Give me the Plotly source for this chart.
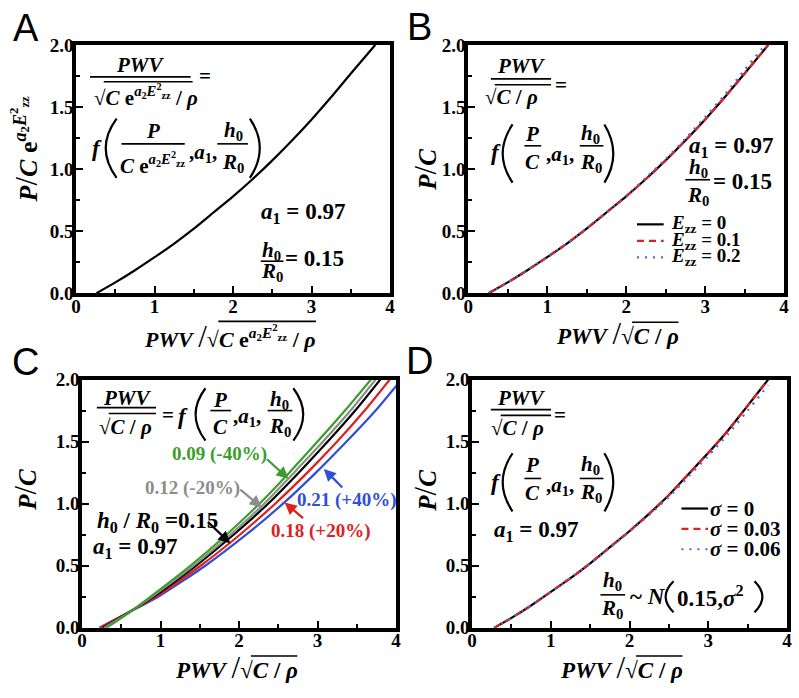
import plotly.graph_objects as go

W, H = 799, 698
SERIF = "'Liberation Serif', 'Times New Roman', Times, serif"
SANS = "'Liberation Sans', Arial, Helvetica, sans-serif"

GREEN = "#3a9e2a"
GRAY = "#8c8c8c"
RED = "#e0201c"
BLUE = "#2f4fd8"
DOTBLUE = "#5068d8"

# ---------------- data ----------------
x_tick_vals = [0, 1, 2, 3, 4]
x_tick_text = ["0", "1", "2", "3", "4"]
y_tick_vals = [0, 0.5, 1.0, 1.5, 2.0]
y_tick_text = ["0.0", "0.5", "1.0", "1.5", "2.0"]

# Panel A
a_x = [0.26, 0.5, 0.75, 1.0, 1.25, 1.5, 1.75, 2.0, 2.25, 2.5, 2.75, 3.0, 3.25, 3.5, 3.81]
a_y = [0.0, 0.087, 0.185, 0.29, 0.40, 0.52, 0.65, 0.78, 0.92, 1.07, 1.23, 1.40, 1.58, 1.77, 2.0]

# Panel B
b_x = [0.26, 0.5, 0.75, 1.0, 1.25, 1.5, 1.75, 2.0, 2.25, 2.5, 2.75, 3.0, 3.25, 3.5, 3.80]
b_ezz_0 = [0.0, 0.087, 0.185, 0.29, 0.40, 0.52, 0.65, 0.78, 0.92, 1.07, 1.23, 1.40, 1.58, 1.77, 2.0]
b_ezz_01 = [0.0, 0.087, 0.185, 0.29, 0.40, 0.52, 0.65, 0.78, 0.92, 1.07, 1.23, 1.40, 1.58, 1.77, 2.0]
b_ezz_02 = [0.0, 0.087, 0.185, 0.29, 0.40, 0.52, 0.65, 0.785, 0.93, 1.08, 1.245, 1.42, 1.60, 1.80, 2.03]

# Panel C (x values at fixed P/C levels)
c_y = [0.0, 0.1, 0.25, 0.5, 0.75, 1.0, 1.25, 1.5, 1.75, 2.0]
c_x_009 = [0.31, 0.55, 0.87, 1.38, 1.84, 2.26, 2.64, 3.00, 3.35, 3.68]
c_x_012 = [0.28, 0.54, 0.89, 1.42, 1.89, 2.32, 2.70, 3.07, 3.42, 3.74]
c_x_015 = [0.26, 0.53, 0.91, 1.45, 1.93, 2.37, 2.76, 3.13, 3.48, 3.80]
c_x_018 = [0.23, 0.52, 0.94, 1.51, 2.01, 2.46, 2.87, 3.25, 3.60, 3.92]
c_x_021 = [0.22, 0.52, 0.97, 1.57, 2.09, 2.56, 2.98, 3.37, 3.74, 4.07]

# Panel D
d_x = [0.28, 0.5, 0.75, 1.0, 1.25, 1.5, 1.75, 2.0, 2.25, 2.5, 2.75, 3.0, 3.25, 3.5, 3.76]
d_sig_0 = [0.0, 0.08, 0.18, 0.29, 0.40, 0.52, 0.65, 0.78, 0.92, 1.07, 1.24, 1.41, 1.59, 1.79, 2.0]
d_sig_003 = [0.0, 0.08, 0.18, 0.29, 0.40, 0.52, 0.65, 0.78, 0.92, 1.07, 1.24, 1.41, 1.59, 1.79, 2.0]
d_sig_006 = [0.0, 0.08, 0.18, 0.29, 0.40, 0.52, 0.645, 0.775, 0.91, 1.055, 1.22, 1.385, 1.56, 1.75, 1.955]

# ---------------- figure ----------------
fig = go.Figure()


def add_line(xs, ys, axn, color, dash="solid", width=2.2):
    fig.add_trace(go.Scatter(
        x=xs, y=ys, xaxis="x" + axn, yaxis="y" + axn, mode="lines",
        line=dict(color=color, width=width, dash=dash, shape="spline", smoothing=0.6),
        showlegend=False, hoverinfo="skip"))


add_line(a_x, a_y, "", "black")
add_line(b_x, b_ezz_0, "2", "black")
add_line(b_x, b_ezz_01, "2", RED, dash="7px,5px")
add_line(b_x, b_ezz_02, "2", DOTBLUE, dash="2px,6px")
add_line(c_x_021, c_y, "3", BLUE)
add_line(c_x_018, c_y, "3", RED)
add_line(c_x_015, c_y, "3", "black")
add_line(c_x_012, c_y, "3", GRAY)
add_line(c_x_009, c_y, "3", GREEN)
add_line(d_x, d_sig_0, "4", "black")
add_line(d_x, d_sig_003, "4", RED, dash="7px,5px")
add_line(d_x, d_sig_006, "4", DOTBLUE, dash="2px,6px")

TICKFONT = dict(family=SERIF, size=19, color="black", weight="bold")


def xax(x0, x1, anchor):
    return dict(domain=[x0 / W, x1 / W], anchor=anchor, range=[0, 4],
                tickmode="array", tickvals=x_tick_vals, ticktext=x_tick_text,
                ticks="inside", ticklen=7, tickwidth=2, tickcolor="black",
                ticklabelstandoff=-7,
                minor=dict(ticks="inside", dtick=0.5, ticklen=4, tickwidth=2, tickcolor="black"),
                showline=True, linewidth=3.5, linecolor="black", mirror=True,
                showgrid=False, zeroline=False, tickfont=TICKFONT, fixedrange=True)


def yax(top, bot, anchor):
    return dict(domain=[1 - bot / H, 1 - top / H], anchor=anchor, range=[0, 2],
                tickmode="array", tickvals=y_tick_vals, ticktext=y_tick_text,
                ticks="inside", ticklen=7, tickwidth=2, tickcolor="black",
                ticklabelstandoff=-5,
                minor=dict(ticks="inside", dtick=0.25, ticklen=4, tickwidth=2, tickcolor="black"),
                showline=True, linewidth=3.5, linecolor="black", mirror=True,
                showgrid=False, zeroline=False, tickfont=TICKFONT, fixedrange=True)


annotations = []
shapes = []


def T(x, y, s, size=20, color="black", xa="center", ya="middle", family=SERIF,
      angle=0, weight="bold"):
    annotations.append(dict(x=x / W, y=1 - y / H, xref="paper", yref="paper", text=s,
                            showarrow=False, xanchor=xa, yanchor=ya, textangle=angle,
                            borderpad=0,
                            font=dict(family=family, size=size, color=color, weight=weight)))


def L(x0, y0, x1, y1, w=1.6, color="black", dash="solid"):
    shapes.append(dict(type="line", xref="paper", yref="paper",
                       x0=x0 / W, y0=1 - y0 / H, x1=x1 / W, y1=1 - y1 / H,
                       line=dict(color=color, width=w, dash=dash)))


def paren(xe, xb, y0, y1, w=2.2):
    cx = xe + 2 * (xb - xe)
    ym = (y0 + y1) / 2
    path = "M {} {} Q {} {} {} {}".format(xe / W, 1 - y0 / H, cx / W, 1 - ym / H,
                                          xe / W, 1 - y1 / H)
    shapes.append(dict(type="path", xref="paper", yref="paper", path=path,
                       line=dict(color="black", width=w)))


def arrow(xd, yd, ax, ay, color):
    annotations.append(dict(x=xd, y=yd, xref="x3", yref="y3", text="", showarrow=True,
                            ax=ax, ay=ay, arrowhead=2, arrowsize=1.1, arrowwidth=2.2,
                            arrowcolor=color))


SQRT = "<span style='font-weight:normal'>√</span>"
EXP = "<i>a</i><sub>2</sub><i>E</i><sup>2</sup><sub>zz</sub>"
BIGSLASH = "<span style='font-size:31px;font-weight:normal'>/</span>"
PC_TITLE = "<i>P</i>" + BIGSLASH + "<i>C</i>"


def xtitle(cx, cy):
    T(cx, cy, "<i>PWV</i> " + BIGSLASH + SQRT + "<i>C</i> / <i>ρ</i>", 23)
    L(cx + 15, cy - 12, cx + 62, cy - 12)


# ---- Panel A ----
T(21, 19, "A", 38, family=SANS, weight="normal")
T(137, 57, "<i>PWV</i>", 21)
L(86, 69, 188, 69)
T(203, 68, "=", 21)
T(89, 88, SQRT + "<i>C</i> e<sup>" + EXP + "</sup> / <i>ρ</i>", 21, xa="left")
L(100, 74, 190, 74)
T(93, 143, "<i>f</i>", 23)
paren(113, 102, 112, 173)
T(150, 125, "<i>P</i>", 21)
L(118, 138, 182, 138)
T(150, 158, "<i>C</i> e<sup>" + EXP + "</sup>", 21)
T(201, 147, ",<i>a</i><sub>1</sub>,", 21)
T(231, 125, "<i>h</i><sub>0</sub>", 21)
L(215, 138, 246, 138)
T(231, 158, "<i>R</i><sub>0</sub>", 21)
paren(248, 258, 112, 173)
T(302, 209, "<i>a</i><sub>1</sub> = 0.97", 23)
T(270, 248, "<i>h</i><sub>0</sub>", 21)
L(259, 259, 282, 259)
T(270, 270, "<i>R</i><sub>0</sub>", 21)
T(283, 256, "= 0.15", 23, xa="left")
# axis titles A
T(21, 143, "<i>P</i>" + BIGSLASH + "<i>C</i> e<sup>" + EXP + "</sup>", 26, angle=-90)
T(228, 337, "<i>PWV</i> " + BIGSLASH + SQRT + "<i>C</i> e<sup>" + EXP + "</sup> / <i>ρ</i>", 22)
L(216, 321, 315, 321)

# ---- Panel B ----
T(420, 18, "B", 38, family=SANS, weight="normal")
T(523, 58, "<i>PWV</i>", 21)
L(492, 71, 553, 71)
T(563, 77, "=", 21)
T(485, 90, SQRT + "<i>C</i> / <i>ρ</i>", 21, xa="left")
L(496, 77, 553, 77)
T(497, 147, "<i>f</i>", 23)
paren(514, 504, 118, 178)
T(534, 128, "<i>P</i>", 21)
L(526, 140, 543, 140)
T(534, 157, "<i>C</i>", 21)
T(562, 149, ",<i>a</i><sub>1</sub>,", 21)
T(593, 128, "<i>h</i><sub>0</sub>", 21)
L(582, 140, 606, 140)
T(593, 158, "<i>R</i><sub>0</sub>", 21)
paren(607, 616, 118, 178)
T(735, 141, "<i>a</i><sub>1</sub> = 0.97", 23)
T(702, 163, "<i>h</i><sub>0</sub>", 21)
L(689, 175, 714, 175)
T(702, 192, "<i>R</i><sub>0</sub>", 21)
T(716, 177, "= 0.15", 23, xa="left")
L(640, 221, 667, 221, 2.2, "black")
L(640, 238, 667, 238, 2.2, RED, "7px,5px")
L(640, 255, 667, 255, 2.2, DOTBLUE, "2px,6px")
T(673, 221, "<i>E</i><sub>zz</sub> = 0", 19, xa="left")
T(673, 238, "<i>E</i><sub>zz</sub> = 0.1", 19, xa="left")
T(673, 255, "<i>E</i><sub>zz</sub> = 0.2", 19, xa="left")
T(425, 165, PC_TITLE, 25, angle=-90)
xtitle(620, 334)

# ---- Panel C ----
T(21, 363, "C", 38, family=SANS, weight="normal")
T(124, 400, "<i>PWV</i>", 21)
L(93, 410, 153, 410)
T(94, 430, SQRT + "<i>C</i> / <i>ρ</i>", 21, xa="left")
L(105, 416, 153, 416)
T(165, 418, "=", 21)
T(180, 419, "<i>f</i>", 23)
paren(203, 193, 390, 444)
T(218, 402, "<i>P</i>", 21)
L(208, 413, 229, 413)
T(218, 430, "<i>C</i>", 21)
T(245, 420, ",<i>a</i><sub>1</sub>,", 21)
T(278, 402, "<i>h</i><sub>0</sub>", 21)
L(266, 413, 291, 413)
T(278, 430, "<i>R</i><sub>0</sub>", 21)
paren(292, 302, 390, 444)
T(217, 458, "0.09 (-40%)", 19, color=GREEN)
T(190, 493, "0.12 (-20%)", 19, color=GRAY)
T(92, 528, "<i>h</i><sub>0</sub> / <i>R</i><sub>0</sub> =0.15", 23, xa="left")
T(132, 555, "<i>a</i><sub>1</sub> = 0.97", 23)
T(346, 505, "0.21 (+40%)", 19, color=BLUE)
T(319, 537, "0.18 (+20%)", 19, color=RED)
arrow(2.63, 1.20, -23, -21, GREEN)
arrow(2.29, 0.97, -23, -19, GRAY)
arrow(1.89, 0.68, -24, -23, "black")
arrow(3.08, 1.28, 20, 20, BLUE)
arrow(2.58, 1.01, 20, 17, RED)
T(20, 495, PC_TITLE, 25, angle=-90)
xtitle(234, 678)

# ---- Panel D ----
T(420, 362, "D", 38, family=SANS, weight="normal")
T(523, 400, "<i>PWV</i>", 21)
L(492, 412, 553, 412)
T(562, 418, "=", 21)
T(491, 431, SQRT + "<i>C</i> / <i>ρ</i>", 21, xa="left")
L(502, 418, 553, 418)
T(497, 487, "<i>f</i>", 23)
paren(514, 504, 457, 517)
T(534, 469, "<i>P</i>", 21)
L(526, 483, 543, 483)
T(534, 498, "<i>C</i>", 21)
T(562, 491, ",<i>a</i><sub>1</sub>,", 21)
T(593, 469, "<i>h</i><sub>0</sub>", 21)
L(582, 483, 606, 483)
T(593, 498, "<i>R</i><sub>0</sub>", 21)
paren(607, 616, 457, 517)
T(538, 537, "<i>a</i><sub>1</sub> = 0.97", 23)
L(685, 514, 712, 514, 2.2, "black")
L(685, 535, 712, 535, 2.2, RED, "7px,5px")
L(685, 556, 712, 556, 2.2, DOTBLUE, "2px,6px")
T(713, 514, "<i>σ</i> = 0", 21, xa="left")
T(713, 535, "<i>σ</i> = 0.03", 21, xa="left")
T(713, 556, "<i>σ</i> = 0.06", 21, xa="left")
T(615, 589, "<i>h</i><sub>0</sub>", 21)
L(603, 603, 628, 603)
T(615, 618, "<i>R</i><sub>0</sub>", 21)
T(632, 605, "~ <i>N</i>", 23, xa="left")
paren(677, 669, 589, 621)
T(680, 605, "0.15,<i>σ</i><sup>2</sup>", 23, xa="left")
paren(759, 767, 589, 621)
T(425, 496, PC_TITLE, 25, angle=-90)
xtitle(624, 678)

fig.update_layout(
    width=W, height=H, margin=dict(l=0, r=0, t=0, b=0),
    paper_bgcolor="white", plot_bgcolor="white", showlegend=False,
    xaxis=xax(72, 390, "y"), yaxis=yax(36, 292, "x"),
    xaxis2=xax(469, 789, "y2"), yaxis2=yax(36, 292, "x2"),
    xaxis3=xax(78, 396, "y3"), yaxis3=yax(381, 637, "x3"),
    xaxis4=xax(473, 792, "y4"), yaxis4=yax(381, 637, "x4"),
    annotations=annotations, shapes=shapes,
)

fig.write_html("out.html", config={"displayModeBar": False},
               post_script="document.body.style.margin='0px';document.body.style.padding='0px';"
                           "document.body.style.overflow='hidden';")
